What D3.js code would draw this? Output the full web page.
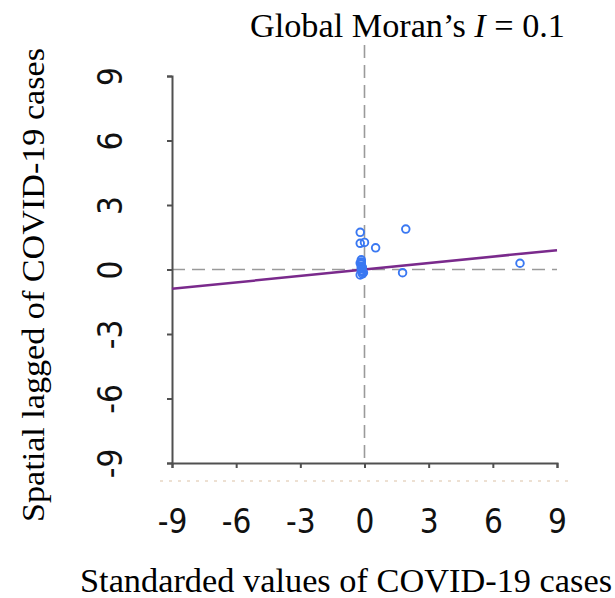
<!DOCTYPE html>
<html>
<head>
<meta charset="utf-8">
<script src="https://cdn.jsdelivr.net/npm/d3@7"></script>
<style>
  body { margin: 0; background: #fff; }
  svg { display: block; }
</style>
</head>
<body>
<svg id="chart" width="615" height="598"></svg>
<script>
// standardized values (x) and spatial lag (y)
let xVals = [1.93, -0.2, -0.2, 0.0, 0.52, 1.78, 7.27,
             -0.15, -0.15, -0.15, -0.15, -0.15, -0.15, -0.1, -0.1, -0.1, -0.05, -0.2, -0.2];
let yVals = [1.88, 1.73, 1.22, 1.26, 1.01, -0.15, 0.29,
             0.45, 0.35, 0.25, 0.15, 0.05, -0.05, -0.1, -0.2, 0.1, -0.15, 0.3, -0.25];
let ticks = [-9, -6, -3, 0, 3, 6, 9];
let moranI = 0.1;
let lineX = [-9, 9];

let svg = d3.select("#chart");
let x = d3.scaleLinear().domain([-9, 9]).range([172, 557]);
let y = d3.scaleLinear().domain([-9, 9]).range([463, 76]);

let tickFont = "'Liberation Sans Narrow', 'DejaVu Sans Condensed', sans-serif";

// dotted line under the x axis
svg.append("line")
    .attr("x1", 160).attr("x2", 572)
    .attr("y1", 481).attr("y2", 481)
    .attr("stroke", "#e8d6c4")
    .attr("stroke-width", 1.5)
    .attr("stroke-dasharray", "3,6");

// reference lines at zero
svg.append("line")
    .attr("x1", x(0)).attr("x2", x(0))
    .attr("y1", 45).attr("y2", y(-9))
    .attr("stroke", "#9a9a9a").attr("stroke-width", 1.6)
    .attr("stroke-dasharray", "13,7");
svg.append("line")
    .attr("x1", x(-9)).attr("x2", x(9))
    .attr("y1", y(0)).attr("y2", y(0))
    .attr("stroke", "#9a9a9a").attr("stroke-width", 1.6)
    .attr("stroke-dasharray", "13,7");

// axes
let xAxis = svg.append("g")
    .attr("transform", "translate(0," + y(-9) + ")")
    .call(d3.axisBottom(x).tickValues(ticks).tickSize(5).tickFormat(d => String(d)));
xAxis.selectAll("text")
    .attr("dy", 0).attr("y", 70)
    .style("font-family", tickFont).style("font-size", "33px")
    .attr("fill", "#111");

let yAxis = svg.append("g")
    .attr("transform", "translate(" + x(-9) + ",0)")
    .call(d3.axisLeft(y).tickValues(ticks).tickSize(5).tickFormat(d => String(d)));
yAxis.selectAll("text")
    .attr("x", 0).attr("dy", 0)
    .attr("transform", "translate(-50,0) rotate(-90)")
    .attr("text-anchor", "middle")
    .attr("y", 0)
    .style("font-family", tickFont).style("font-size", "33px")
    .attr("fill", "#111");

svg.selectAll(".domain, .tick line").attr("stroke", "#505050").attr("stroke-width", 2);

// regression line
svg.append("path")
    .datum(lineX)
    .attr("fill", "none")
    .attr("stroke", "#7a2a8c")
    .attr("stroke-width", 2.5)
    .attr("d", d3.line().x(d => x(d)).y(d => y(moranI * d)));

// points
svg.append("g").selectAll("circle")
    .data(xVals)
    .join("circle")
    .attr("cx", d => x(d))
    .attr("cy", (d, i) => y(yVals[i]))
    .attr("r", 3.8)
    .attr("fill", "none")
    .attr("stroke", "#3a78f2")
    .attr("stroke-width", 1.9);

// titles
svg.append("text")
    .attr("x", 250).attr("y", 37)
    .attr("textLength", 315).attr("lengthAdjust", "spacingAndGlyphs")
    .style("font-family", "'Liberation Serif', serif").style("font-size", "33px")
    .html("Global Moran\u2019s <tspan font-style='italic'>I</tspan> = 0.1");

svg.append("text")
    .attr("x", 80).attr("y", 592)
    .attr("textLength", 532).attr("lengthAdjust", "spacingAndGlyphs")
    .style("font-family", "'Liberation Serif', serif").style("font-size", "33px")
    .text("Standarded values of COVID-19 cases");

svg.append("text")
    .attr("transform", "translate(44,522) rotate(-90)")
    .attr("textLength", 474).attr("lengthAdjust", "spacingAndGlyphs")
    .style("font-family", "'Liberation Serif', serif").style("font-size", "31px")
    .text("Spatial lagged of COVID-19 cases");
</script>
</body>
</html>
